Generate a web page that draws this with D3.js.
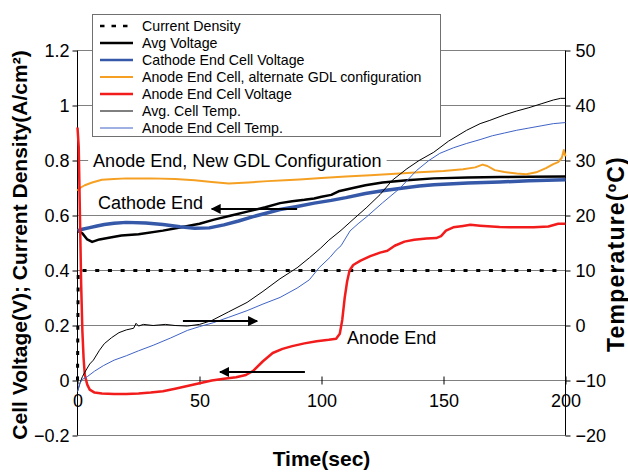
<!DOCTYPE html>
<html><head><meta charset="utf-8">
<script src="https://cdn.jsdelivr.net/npm/d3@7"></script>
<style>body{margin:0;background:#fff}svg{display:block}text{font-family:"Liberation Sans",Arial,sans-serif}</style>
</head><body><svg id="c" width="628" height="472"></svg>
<script>
// ---------- data ----------
const xTicks = [0, 50, 100, 150, 200];
const yLeftTicks = [-0.2, 0, 0.2, 0.4, 0.6, 0.8, 1, 1.2];
const yRightTicks = [-20, -10, 0, 10, 20, 30, 40, 50];

const seriesNames = ["Current Density", "Avg Voltage", "Cathode End Cell Voltage",
  "Anode End Cell, alternate GDL configuration", "Anode End Cell Voltage",
  "Avg. Cell Temp.", "Anode End Cell Temp."];

const currentDensity = [[0,0],[0.3,0.4],[200,0.4]];
const avgVoltage = [[0,0.545],[2,0.535],[4,0.513],[6,0.504],[9,0.513],[14,0.521],[18,0.527],[25,0.532],[35,0.545],[42,0.556],[50,0.57],[56,0.585],[63,0.6],[70,0.615],[77,0.63],[83,0.645],[88,0.652],[93,0.657],[97,0.662],[100,0.668],[104,0.675],[107,0.688],[112,0.698],[118,0.71],[125,0.72],[135,0.728],[146,0.735],[160,0.738],[173,0.74],[185,0.741],[200,0.742]];
const cathodeVoltage = [[0,0.545],[2,0.55],[5,0.556],[8,0.562],[11,0.567],[15,0.572],[20,0.575],[28,0.573],[35,0.567],[42,0.559],[48,0.554],[54,0.555],[60,0.566],[66,0.58],[72,0.596],[78,0.61],[83,0.622],[90,0.633],[97,0.645],[104,0.655],[110,0.665],[118,0.68],[125,0.69],[132,0.698],[140,0.707],[146,0.712],[160,0.718],[173,0.722],[185,0.726],[200,0.73]];
const altGdlVoltage = [[0,0.69],[1,0.7],[3,0.71],[6,0.72],[10,0.73],[15,0.733],[20,0.735],[30,0.735],[40,0.733],[48,0.728],[55,0.722],[62,0.716],[70,0.72],[78,0.725],[85,0.728],[91,0.731],[100,0.736],[110,0.742],[120,0.746],[132,0.753],[140,0.757],[150,0.762],[158,0.768],[163,0.775],[166,0.785],[168,0.78],[171,0.765],[175,0.758],[180,0.753],[184,0.75],[188,0.757],[192,0.772],[195,0.787],[197,0.794],[198.5,0.81],[199.3,0.838],[200,0.815]];
const anodeVoltage = [[0,0.92],[0.5,0.85],[1,0.6],[1.5,0.35],[2,0.18],[2.5,0.08],[3,0.02],[4,-0.015],[5,-0.033],[7,-0.044],[10,-0.047],[15,-0.049],[20,-0.049],[25,-0.047],[30,-0.044],[35,-0.039],[40,-0.03],[45,-0.02],[50,-0.01],[55,0.0],[60,0.006],[65,0.012],[69,0.02],[72,0.035],[76,0.07],[80,0.1],[84,0.115],[88,0.125],[93,0.135],[98,0.143],[103,0.148],[106,0.152],[107.5,0.17],[108.5,0.22],[109.5,0.3],[110.5,0.36],[111.5,0.4],[113,0.42],[116,0.436],[120,0.452],[124,0.465],[127,0.472],[130,0.49],[134,0.505],[138,0.512],[143,0.516],[147,0.518],[149,0.525],[151,0.545],[154,0.557],[158,0.562],[161,0.566],[165,0.563],[173,0.558],[180,0.557],[187,0.557],[193,0.56],[197,0.57],[200,0.57]];
const avgCellTemp = [[0,-12],[1,-10.5],[2,-9.3],[3,-8.5],[5,-7],[6.5,-6.3],[9,-4.5],[11,-3.3],[14,-2.2],[17,-1.3],[20,-0.8],[23,-0.5],[24,0.4],[25,-0.1],[27,0.2],[31,0],[36,0.2],[40,0],[45,-0.1],[50,0.2],[55,0.9],[62,2.5],[69.5,4.2],[76,6.2],[83,8.5],[90,10.5],[95,12.3],[99.5,14],[103,15.5],[108,17.3],[112.5,19.1],[118.6,21.5],[124,23.8],[129,26.4],[135,28.5],[140,30],[146,31.5],[152,33.5],[159.5,35.5],[165,36.7],[169,37.3],[175,38.3],[180,39],[185,39.6],[190,40.3],[195,41],[198,41.3],[200,41.3]];
const anodeCellTemp = [[0,-12],[1,-10.5],[2,-9.8],[4,-9.3],[7,-8.3],[10.6,-7.3],[15,-6.3],[20,-5.5],[25,-4.6],[31,-3.6],[38,-2.3],[45,-0.9],[50,-0.2],[55.6,0.5],[62,1.5],[69.5,2.7],[76,3.9],[83,5.1],[90,6.8],[95,8.3],[99,10.5],[103.5,12.4],[106,13.7],[108,14.5],[111.7,17.2],[115,18.5],[118.6,19.8],[125,22.3],[132,24.9],[139,28.2],[144,30],[148.5,31.3],[154,32.3],[159.5,33.1],[165,33.8],[170,34.5],[175,35],[180,35.5],[185,35.9],[190,36.3],[195,36.7],[200,36.9]];

// annotations (data units)
const annotations = [
  {text:"Anode End, New GDL Configuration", t:6.4, v:0.8, bg:true},
  {text:"Cathode End", t:8.4, v:0.645},
  {text:"Anode End", t:110.5, v:0.155}
];
const arrows = [
  {t0:90, t1:55, v:0.624},
  {t0:43.2, t1:73.6, v:0.216},
  {t0:93.2, t1:58.4, v:0.031}
];

// ---------- chart ----------
const svg = d3.select("#c");
const W = 628, H = 472;
svg.append("rect").attr("width", W).attr("height", H).attr("fill", "#fff");
const L = 77.5, R = 565.5, T = 50.5, B = 435.5;
const x = d3.scaleLinear().domain([0, 200]).range([L, R]);
const yL = d3.scaleLinear().domain([-0.2, 1.2]).range([B, T]);
const yR = d3.scaleLinear().domain([-20, 50]).range([B, T]);

// gridlines
svg.append("g").selectAll("line").data(yLeftTicks).join("line")
  .attr("x1", L).attr("x2", R).attr("y1", d => yL(d)).attr("y2", d => yL(d))
  .attr("stroke", "#808080").attr("stroke-width", 1);

// left axis
const gL = svg.append("g").attr("transform", `translate(${L},0)`)
  .call(d3.axisLeft(yL).tickValues(yLeftTicks).tickSize(5).tickPadding(3).tickFormat(d3.format("~g")));
// right axis
const gR = svg.append("g").attr("transform", `translate(${R},0)`)
  .call(d3.axisRight(yR).tickValues(yRightTicks).tickSize(5).tickPadding(5).tickFormat(d3.format("~g")));
// x axis at V=0
const gX = svg.append("g").attr("transform", `translate(0,${yL(0)})`)
  .call(d3.axisBottom(x).tickValues(xTicks).tickSize(4).tickPadding(10).tickFormat(d3.format("~g")));
[gL, gR, gX].forEach(g => {
  g.select(".domain").attr("stroke", "#000");
  g.selectAll(".tick line").attr("stroke", "#000");
  g.selectAll("text").attr("font-size", 18).attr("fill", "#000").attr("font-family", '"Liberation Sans",Arial,sans-serif');
});
gX.select(".domain").remove();
gX.selectAll(".tick line").attr("y1", -4);
gL.select(".domain").attr("d", `M0,${T}V${B}`);
gR.select(".domain").attr("d", `M0,${T}V${B}`);

// series
const lineL = d3.line().x(d => x(d[0])).y(d => yL(d[1]));
const lineR = d3.line().x(d => x(d[0])).y(d => yR(d[1]));
const styles = [
  {data: currentDensity, line: lineL, color:"#000", w:3, dash:"4,8.7"},
  {data: avgVoltage, line: lineL, color:"#000", w:2.5},
  {data: cathodeVoltage, line: lineL, color:"#3558A8", w:3.5},
  {data: altGdlVoltage, line: lineL, color:"#F5A023", w:2},
  {data: anodeVoltage, line: lineL, color:"#F21C1C", w:2.5},
  {data: avgCellTemp, line: lineR, color:"#000", w:1},
  {data: anodeCellTemp, line: lineR, color:"#3F63C6", w:1}
];
styles.forEach(s => {
  svg.append("path").datum(s.data).attr("d", s.line).attr("fill", "none")
    .attr("stroke", s.color).attr("stroke-width", s.w)
    .attr("stroke-dasharray", s.dash || null).attr("stroke-linejoin", "round");
});

// annotations
annotations.forEach(a => {
  const t = svg.append("text").attr("x", x(a.t)).attr("y", yL(a.v)).attr("dy", "0.35em")
    .attr("font-size", 18).attr("fill", "#000").text(a.text);
  if (a.bg) {
    const bb = t.node().getBBox();
    svg.insert("rect", () => t.node()).attr("x", bb.x - 5).attr("y", bb.y).attr("width", bb.width + 10)
      .attr("height", bb.height).attr("fill", "#fff");
  }
});
const defs = svg.append("defs");
defs.append("marker").attr("id", "ah").attr("viewBox", "0 0 10 10").attr("refX", 9).attr("refY", 5)
  .attr("markerWidth", 5).attr("markerHeight", 5).attr("orient", "auto")
  .append("path").attr("d", "M0,0L10,5L0,10z").attr("fill", "#000");
arrows.forEach(a => {
  svg.append("line").attr("x1", x(a.t0)).attr("x2", x(a.t1)).attr("y1", yL(a.v)).attr("y2", yL(a.v))
    .attr("stroke", "#000").attr("stroke-width", 2).attr("marker-end", "url(#ah)");
});

// axis titles
svg.append("text").attr("transform", `translate(27,${(T+B)/2 + 2}) rotate(-90)`).attr("text-anchor", "middle")
  .attr("font-size", 21).attr("font-weight", "bold").text("Cell Voltage(V); Current Density(A/cm²)");
svg.append("text").attr("transform", `translate(624,254) rotate(-90)`).attr("text-anchor", "middle")
  .attr("font-size", 23).attr("font-weight", "bold").attr("letter-spacing", 1.2).text("Temperature(ºC)");
svg.append("text").attr("x", (L+R)/2).attr("y", 466).attr("text-anchor", "middle")
  .attr("font-size", 21).attr("font-weight", "bold").text("Time(sec)");

// legend
const lg = svg.append("g");
lg.append("rect").attr("x", 92.5).attr("y", 14.5).attr("width", 348).attr("height", 122)
  .attr("fill", "#fff").attr("stroke", "#707070").attr("stroke-width", 1);
styles.forEach((s, i) => {
  const yy = 26 + i * 17;
  lg.append("line").attr("x1", 100).attr("x2", 133).attr("y1", yy).attr("y2", yy)
    .attr("stroke", s.color).attr("stroke-width", Math.min(s.w, 2.5)).attr("stroke-dasharray", s.dash ? "4.5,7" : null);
  lg.append("text").attr("x", 142).attr("y", yy).attr("dy", "0.35em").attr("font-size", 14.2).text(seriesNames[i]);
});
</script></body></html>
